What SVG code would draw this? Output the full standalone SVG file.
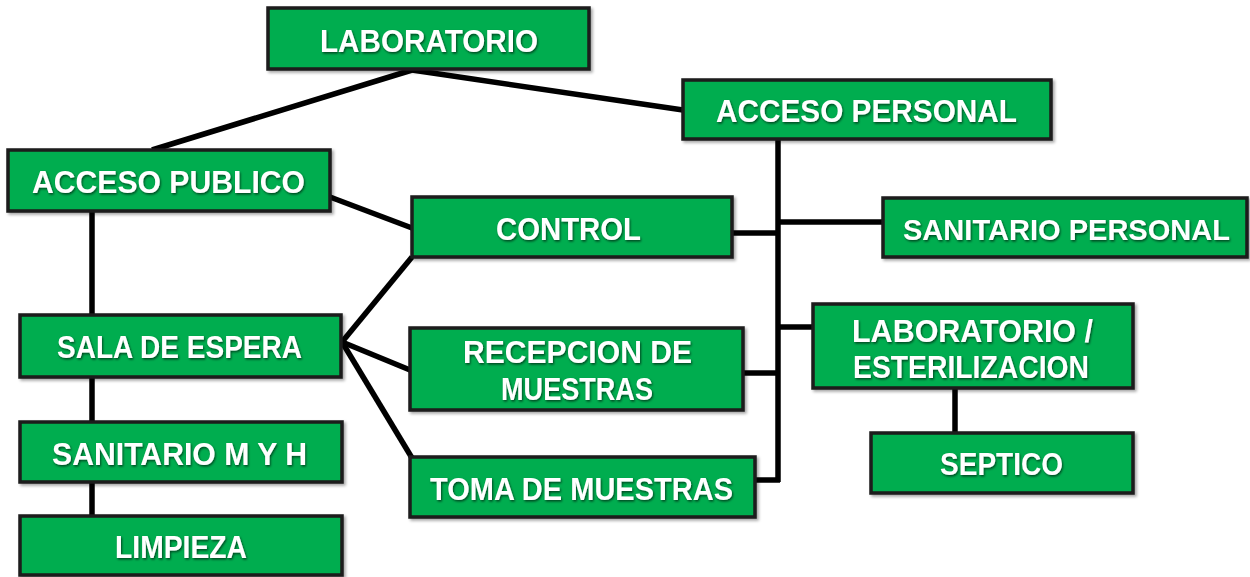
<svg xmlns="http://www.w3.org/2000/svg" width="1250" height="577" viewBox="0 0 1250 577">
<defs>
<filter id="boxShadow" x="-5%" y="-10%" width="115%" height="130%">
<feDropShadow dx="2" dy="2" stdDeviation="1.5" flood-color="#000" flood-opacity="0.35"/>
</filter>
<filter id="txtShadow" x="-5%" y="-20%" width="110%" height="150%">
<feDropShadow dx="1" dy="1.5" stdDeviation="1" flood-color="#000" flood-opacity="0.6"/>
</filter>
<style>
.box{fill:#00ad4f;stroke:#1a1a1a;stroke-width:3.5;filter:url(#boxShadow)}
.lbl{font-family:"Liberation Sans",Arial,sans-serif;font-weight:bold;font-size:32px;fill:#ffffff;filter:url(#txtShadow)}
.con{fill:none;stroke:#000;stroke-width:5.5;stroke-linecap:butt}
</style>
</defs>
<rect width="1250" height="577" fill="#ffffff"/>
<g id="connectors">
<path class="con" d="M412,70 L152,150"/>
<path class="con" d="M412,70 L683,110"/>
<path class="con" d="M330,197 L412,228"/>
<path class="con" d="M92,211 V315"/>
<path class="con" d="M342,342 L412,257"/>
<path class="con" d="M342,342 L410,370"/>
<path class="con" d="M342,342 L412,458"/>
<path class="con" d="M92,377 V422"/>
<path class="con" d="M92,482 V516"/>
<path class="con" d="M778,139 V482"/>
<path class="con" d="M732,233 H780"/>
<path class="con" d="M776,222 H883"/>
<path class="con" d="M776,327 H813"/>
<path class="con" d="M743,373 H780"/>
<path class="con" d="M755,480 H780"/>
<path class="con" d="M955,388 V433"/>
</g>
<g id="n-laboratorio">
<rect class="box" x="268" y="8" width="321" height="61"/>
<text class="lbl" x="320" y="52" textLength="218" lengthAdjust="spacingAndGlyphs">LABORATORIO</text>
</g>
<g id="n-acceso-personal">
<rect class="box" x="683" y="80" width="368" height="59"/>
<text class="lbl" x="716" y="122" textLength="301" lengthAdjust="spacingAndGlyphs">ACCESO PERSONAL</text>
</g>
<g id="n-acceso-publico">
<rect class="box" x="8" y="150" width="322" height="61"/>
<text class="lbl" x="32" y="193" textLength="273" lengthAdjust="spacingAndGlyphs">ACCESO PUBLICO</text>
</g>
<g id="n-control">
<rect class="box" x="412" y="197" width="320" height="60"/>
<text class="lbl" x="496" y="240" textLength="145" lengthAdjust="spacingAndGlyphs">CONTROL</text>
</g>
<g id="n-sanitario-personal">
<rect class="box" x="883" y="198" width="364" height="59"/>
<text class="lbl" x="903" y="240" font-size="30" style="font-size:30px" textLength="327" lengthAdjust="spacingAndGlyphs">SANITARIO PERSONAL</text>
</g>
<g id="n-sala-espera">
<rect class="box" x="20" y="315" width="321" height="62"/>
<text class="lbl" x="57" y="358" textLength="245" lengthAdjust="spacingAndGlyphs">SALA DE ESPERA</text>
</g>
<g id="n-lab-esterilizacion">
<rect class="box" x="813" y="304" width="320" height="84"/>
<text class="lbl" x="852" y="342" textLength="241" lengthAdjust="spacingAndGlyphs">LABORATORIO /</text>
<text class="lbl" x="853" y="378" textLength="236" lengthAdjust="spacingAndGlyphs">ESTERILIZACION</text>
</g>
<g id="n-recepcion">
<rect class="box" x="410" y="328" width="333" height="82"/>
<text class="lbl" x="463" y="363" textLength="229" lengthAdjust="spacingAndGlyphs">RECEPCION DE</text>
<text class="lbl" x="501" y="400" textLength="152" lengthAdjust="spacingAndGlyphs">MUESTRAS</text>
</g>
<g id="n-toma">
<rect class="box" x="410" y="457" width="345" height="60"/>
<text class="lbl" x="430" y="500" textLength="303" lengthAdjust="spacingAndGlyphs">TOMA DE MUESTRAS</text>
</g>
<g id="n-septico">
<rect class="box" x="871" y="433" width="262" height="60"/>
<text class="lbl" x="940" y="475" textLength="123" lengthAdjust="spacingAndGlyphs">SEPTICO</text>
</g>
<g id="n-sanitario-mh">
<rect class="box" x="20" y="422" width="322" height="60"/>
<text class="lbl" x="52" y="465" textLength="255" lengthAdjust="spacingAndGlyphs">SANITARIO M Y H</text>
</g>
<g id="n-limpieza">
<rect class="box" x="20" y="516" width="322" height="59"/>
<text class="lbl" x="115" y="558" textLength="132" lengthAdjust="spacingAndGlyphs">LIMPIEZA</text>
</g>
</svg>
